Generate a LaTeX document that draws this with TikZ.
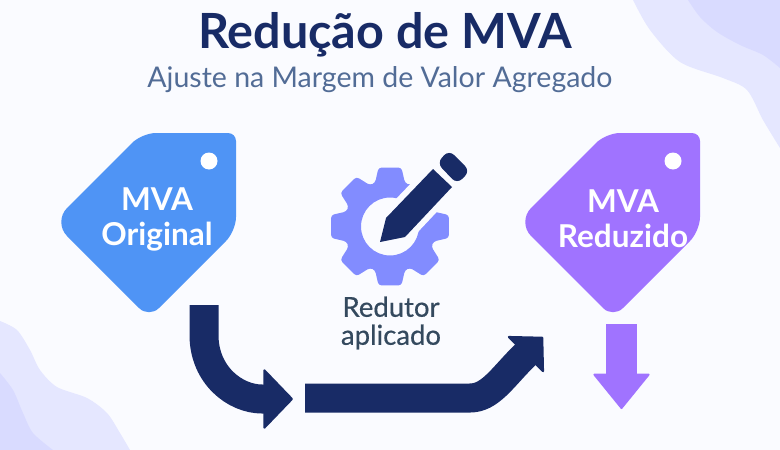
\documentclass[tikz,border=0pt]{standalone}
\usepackage{fontspec}
\setmainfont{Lato}
\newfontfamily\medfont{Lato}[FakeBold=0.5]
\usetikzlibrary{arrows.meta}
\definecolor{paper}{HTML}{FAFBFF}
\definecolor{navy}{HTML}{182B66}
\definecolor{tagblue}{HTML}{4F94F5}
\definecolor{tagviolet}{HTML}{A073FF}
\definecolor{gearblue}{HTML}{828CFF}
\definecolor{blobA}{HTML}{E5E7FF}
\definecolor{blobB}{HTML}{D9DBFF}
\definecolor{subgray}{HTML}{526C96}
\definecolor{labelgray}{HTML}{34495E}

\begin{document}
\begin{tikzpicture}[x=1pt, y=-1pt,
  every node/.append style={align=center, inner sep=0pt},
  titletext/.style={font=\fontsize{48.5}{54}\selectfont\bfseries, text=navy, anchor=base},
  subtext/.style={font=\fontsize{28.5}{32}\selectfont, text=subgray, anchor=base},
  tagtext/.style={font=\fontsize{31.5}{35}\selectfont\bfseries, text=white},
  geartext/.style={font=\medfont\fontsize{27.5}{28}\selectfont, text=labelgray},
  flow/.style={draw=navy, line width=29pt},
  drop/.style={draw=tagviolet, line width=31pt},
  pics/pricetag/.style={code={
    \fill[#1] (142,133) [rounded corners=8pt] -- (236,133) [rounded corners=14pt] -- (236,231)
       [rounded corners=14pt] -- (149,318) [rounded corners=20pt] -- (53,222) [rounded corners=14pt] -- cycle;
    \fill[white] (209,161) circle (8.5);
  }}]
 \useasboundingbox (0,0) rectangle (780,450);
 \fill[paper] (0,0) rectangle (780,450);
 % corner blobs
 \fill[blobA] plot[smooth] coordinates {(633,0) (650,30) (680,62) (723,78) (747,90) (763,120) (780,148)} -- (780,0) -- cycle;
 \fill[blobB] plot[smooth] coordinates {(688,0) (700,17) (717,32) (740,45) (763,55) (780,68)} -- (780,0) -- cycle;
 \fill[blobA] plot[smooth] coordinates {(0,321) (17,330) (30,350) (40,370) (57,387) (87,398) (107,413) (120,433) (130,450)} -- (0,450) -- cycle;
 \fill[blobB] plot[smooth] coordinates {(0,373) (13,390) (23,413) (33,433) (53,450)} -- (0,450) -- cycle;

 \node[titletext] (title) at (385,48) {Redução de MVA};
 \node[subtext] (sub) at (380,87) {Ajuste na Margem de Valor Agregado};

 % tags
 \pic {pricetag=tagblue};
 \pic[xshift=464pt] {pricetag=tagviolet};
 \node[tagtext] (orig) at (157,219) {MVA\\Original};
 \node[tagtext] (redu) at (623,219) {MVA\\Reduzido};

 % gear
 \coordinate (gear) at (390,226.5);
 \begin{scope}[shift={(gear)}]
  \fill[gearblue, even odd rule, rounded corners=3pt] (-19:46)
    \foreach \a in {0,45,...,315} { -- (\a-19:46) -- (\a-11:60) -- (\a+11:60) -- (\a+19:46) } -- cycle
    (0,0) circle (29);
 \end{scope}
 \fill[paper] (437,212) -- (470,212) -- (470,150) -- (425,150) -- cycle;
 % pencil
 \fill[navy, draw=paper, line width=12pt, line join=round] (380,242) -- (386,218) -- (433,169) -- (452,187) -- (405,237) -- cycle;
 \fill[navy] (380,242) -- (386,218) -- (433,169) -- (452,187) -- (405,237) -- cycle;
 \fill[navy, rounded corners=7pt] (437,163) -- (449,150) -- (470,171) -- (457,184) -- cycle;
 \node[geartext] (redutor) at (391,323) {Redutor\\aplicado};

 % arrows
 \coordinate (a1) at (204,305);
 \coordinate (a2) at (293,399);
 \coordinate (b1) at (305,398);
 \coordinate (b2) at (543,337);
 \coordinate (c1) at (621.5,324);
 \coordinate (c2) at (621.5,409);
 \draw[flow, -{Triangle[round, length=30pt, width=62pt, line width=2pt]}] (a1) -- (204,335) .. controls (204,375) and (235,399) .. (262,399) -- (a2);
 \draw[flow, -{Triangle[round, length=25.5pt, width=53pt, line width=2pt]}] (b1) -- (470,398) .. controls (490,398) and (502,378) .. (524,356) -- (b2);
 \draw[drop, -{Triangle[round, length=36pt, width=58pt, line width=2pt]}] (c1) -- (c2);
\end{tikzpicture}
\end{document}
